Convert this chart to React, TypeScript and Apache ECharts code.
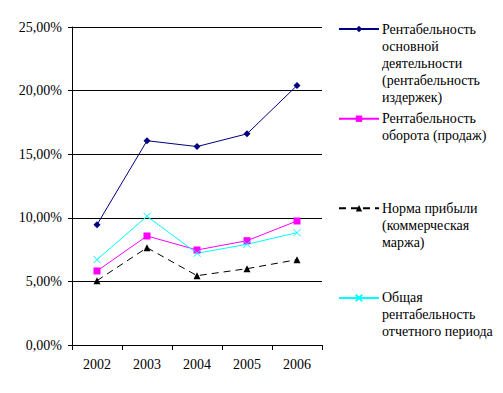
import React, { useEffect, useRef } from "react";
import * as echarts from "echarts";

const years = ["2002", "2003", "2004", "2005", "2006"];
const seriesNames = [
  "Рентабельность основной деятельности (рентабельность издержек)",
  "Рентабельность оборота (продаж)",
  "Норма прибыли (коммерческая маржа)",
  "Общая рентабельность отчетного периода",
];
const legendLines = [
  ["Рентабельность", "основной", "деятельности", "(рентабельность", "издержек)"],
  ["Рентабельность", "оборота (продаж)"],
  ["Норма прибыли", "(коммерческая", "маржа)"],
  ["Общая", "рентабельность", "отчетного периода"],
];
const coreProfitability = [9.46, 16.06, 15.6, 16.6, 20.4];
const salesProfitability = [5.82, 8.57, 7.47, 8.2, 9.75];
const profitMargin = [5.06, 7.65, 5.45, 6.0, 6.71];
const totalProfitability = [6.71, 10.12, 7.21, 7.92, 8.83];
const yTicks = [0, 5, 10, 15, 20, 25];

const FONT = "'Liberation Serif', 'DejaVu Serif', serif";
const LH = 17;
const ICON_H = 8;
const legendCenters = [29, 118.7, 208.3, 297.7];

export default function App() {
  const ref = useRef<HTMLDivElement>(null);
  useEffect(() => {
    if (!ref.current) return;
    const chart = echarts.init(ref.current, undefined, { renderer: "svg" });
    const colors = ["#000080", "#FF00FF", "#000000", "#00FFFF"];
    const symbols = ["diamond", "rect", "triangle", "path://M0,0L10,10M10,0L0,10"];
    const datas = [coreProfitability, salesProfitability, profitMargin, totalProfitability];
    const legendTexts: any[] = [];
    legendLines.forEach((lines, i) => {
      lines.forEach((line, k) => {
        legendTexts.push({
          type: "text",
          left: 382,
          top: legendCenters[i] + k * LH - 7,
          style: {
            text: line,
            fontFamily: "Liberation Serif",
            fontSize: 14,
            fill: "#000",
          },
        });
      });
    });
    chart.setOption({
      animation: false,
      textStyle: { fontFamily: FONT },
      grid: { left: 72, right: 181, top: 27, bottom: 48 },
      graphic: legendTexts,
      legend: seriesNames.map((n, i) => ({
        data: [n],
        left: 338,
        top: legendCenters[i] - ICON_H / 2,
        orient: "vertical",
        padding: 0,
        itemWidth: 40,
        itemHeight: ICON_H,
        itemGap: 0,
        selectedMode: false,
        formatter: () => "",
        textStyle: { fontSize: 1 },
      })),
      xAxis: {
        type: "category",
        data: years,
        boundaryGap: true,
        axisLine: { lineStyle: { color: "#000", width: 1 } },
        axisTick: { show: true, length: 5, lineStyle: { color: "#000" } },
        axisLabel: { color: "#000", fontFamily: FONT, fontSize: 14, margin: 12 },
      },
      yAxis: {
        type: "value",
        min: yTicks[0],
        max: yTicks[yTicks.length - 1],
        interval: 5,
        axisLine: { show: true, lineStyle: { color: "#000", width: 1 } },
        axisTick: { show: true, length: 4, lineStyle: { color: "#000" } },
        axisLabel: {
          color: "#000",
          fontFamily: FONT,
          fontSize: 14,
          margin: 10,
          formatter: (v: number) => v.toFixed(2).replace(".", ",") + "%",
        },
        splitLine: { show: true, lineStyle: { color: "#000", width: 1 } },
      },
      series: seriesNames.map((n, i) => ({
        name: n,
        type: "line",
        data: datas[i],
        symbol: symbols[i],
        symbolSize: 7,
        showSymbol: true,
        lineStyle: {
          color: colors[i],
          width: 1,
          type: i === 2 ? [7, 5] : "solid",
        },
        itemStyle: {
          color: colors[i],
          borderColor: colors[i],
          borderWidth: i === 3 ? 1 : 0,
        },
      })),
    });
    return () => chart.dispose();
  }, []);
  return <div ref={ref} style={{ width: 503, height: 393, margin: -8 }} />;
}
